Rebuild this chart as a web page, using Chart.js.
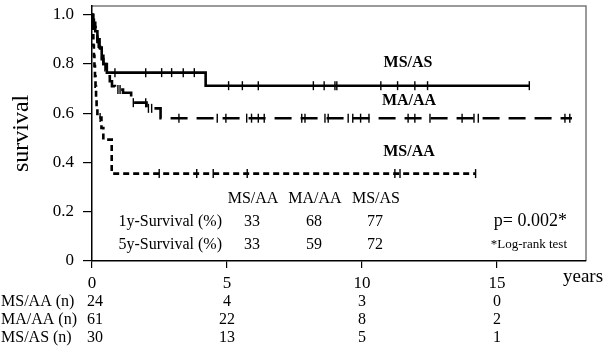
<!DOCTYPE html>
<html>
<head>
<meta charset="utf-8">
<script src="https://cdn.jsdelivr.net/npm/chart.js@4.4.0/dist/chart.umd.min.js"></script>
<style>
html,body{margin:0;padding:0;background:#fff;}
#wrap{width:606px;height:356px;position:relative;}
</style>
</head>
<body>
<div id="wrap"><canvas id="c" width="606" height="356"></canvas></div>
<script>
// ---- Data ----
// MS/AS (solid)
const msasTimes = [0, 0.05, 0.12, 0.2, 0.28, 0.36, 0.42, 0.55, 4.21, 16.2];
const msasSurv  = [1.0, 0.967, 0.933, 0.9, 0.867, 0.833, 0.8, 0.765, 0.712, 0.712];
const msasCensor = [0.85, 1.99, 2.58, 2.95, 3.38, 3.79, 5.06, 5.57, 6.16, 8.2, 8.6, 9.0, 9.07, 10.7, 11.32, 11.96, 12.43, 16.2];

// MA/AA (long dash)
const maaaTimes = [0, 0.02, 0.07, 0.13, 0.2, 0.25, 0.3, 0.36, 0.42, 0.5, 0.58, 0.66, 0.74, 0.85, 1.15, 1.45, 1.52, 2.02, 2.54, 17.78];
const maaaSurv  = [1.0, 0.98, 0.95, 0.92, 0.89, 0.87, 0.85, 0.82, 0.8, 0.775, 0.75, 0.73, 0.71, 0.696, 0.683, 0.66, 0.643, 0.62, 0.58, 0.58];
const maaaCensor = [0.96, 1.04, 1.53, 1.99, 2.09, 2.21, 3.22, 4.64, 4.96, 5.73, 5.91, 6.16, 6.38, 7.77, 7.89, 8.63, 8.75, 9.49, 9.66, 9.95, 10.26, 11.71, 11.96, 12.52, 13.71, 14.15, 14.31, 17.52, 17.7];

// MS/AA (short dash)
const msaaTimes = [0, 0.01, 0.03, 0.05, 0.07, 0.09, 0.11, 0.13, 0.15, 0.17, 0.2, 0.35, 0.42, 0.73, 14.21];
const msaaSurv  = [1.0, 0.958, 0.917, 0.875, 0.833, 0.792, 0.75, 0.708, 0.667, 0.625, 0.583, 0.54, 0.493, 0.355, 0.355];
const msaaCensor = [0.3, 2.49, 3.88, 4.49, 5.75, 11.22, 11.41, 14.21];

// Axis ticks
const xTicks = [0, 5, 10, 15];
const yTicks = [0, 0.2, 0.4, 0.6, 0.8, 1.0];
const yTickLabels = ['0', '0.2', '0.4', '0.6', '0.8', '1.0'];

// Survival table
const survGroups = ['MS/AA', 'MA/AA', 'MS/AS'];
const surv1y = [33, 68, 77];
const surv5y = [33, 59, 72];

// Number at risk
const riskTimes = [0, 5, 10, 15];
const riskLabels = ['MS/AA (n)', 'MA/AA (n)', 'MS/AS (n)'];
const riskMSAA = [24, 4, 3, 0];
const riskMAAA = [61, 22, 8, 2];
const riskMSAS = [30, 13, 5, 1];

// ---- helpers ----
function toPts(ts, ss){ return ts.map((t,i)=>({x:t, y:ss[i]})); }
function survAt(ts, ss, t){ let v = ss[0]; for(let i=0;i<ts.length;i++){ if(ts[i] <= t) v = ss[i]; } return v; }
function censorPts(ct, ts, ss){ return ct.map(t=>({x:t, y:survAt(ts, ss, t)})); }

const SERIF = '"Liberation Serif", "Times New Roman", serif';

const lineBase = { showLine:true, stepped:'before', borderColor:'#000', borderWidth:2.6, pointRadius:0, fill:false, tension:0 };
const censBase = { showLine:false, pointStyle:'line', rotation:90, pointRadius:4.5, pointHoverRadius:4.5, pointBorderWidth:1.4, borderColor:'#000', backgroundColor:'#000' };

const overlay = {
  id:'overlay',
  beforeDraw(chart){
    const {ctx, chartArea:a} = chart;
    ctx.save();
    ctx.strokeStyle = '#7a7a7a';
    ctx.lineWidth = 1.5;
    ctx.beginPath();
    ctx.moveTo(a.left, a.top); ctx.lineTo(a.right, a.top); ctx.lineTo(a.right, a.bottom);
    ctx.stroke();
    ctx.restore();
  },
  afterDraw(chart){
    const {ctx} = chart;
    const xs = chart.scales.x;
    ctx.save();
    ctx.fillStyle = '#000';
    ctx.textBaseline = 'middle';
    // group labels
    ctx.font = 'bold 16px ' + SERIF;
    ctx.textAlign = 'center';
    ctx.fillText('MS/AS', 408, 63);
    ctx.fillText('MA/AA', 409, 101);
    ctx.fillText('MS/AA', 409, 152);
    // survival table
    ctx.font = '16px ' + SERIF;
    const colX = [253, 315, 376];
    survGroups.forEach((g,i)=>ctx.fillText(g, colX[i], 199));
    ctx.textAlign = 'right';
    ctx.fillText('1y-Survival (%)', 222, 222);
    ctx.fillText('5y-Survival (%)', 222, 245);
    ctx.textAlign = 'center';
    surv1y.forEach((v,i)=>ctx.fillText(String(v), colX[i]-1, 222));
    surv5y.forEach((v,i)=>ctx.fillText(String(v), colX[i]-1, 245));
    // p-value
    ctx.textAlign = 'right';
    ctx.font = '18px ' + SERIF;
    ctx.fillText('p= 0.002*', 567, 221);
    ctx.font = '13px ' + SERIF;
    ctx.fillText('*Log-rank test', 567, 245);
    // years
    ctx.textAlign = 'left';
    ctx.font = '19px ' + SERIF;
    ctx.fillText('years', 563, 277);
    // risk table
    ctx.font = '16px ' + SERIF;
    const rows = [riskMSAA, riskMAAA, riskMSAS];
    const rowY = [302, 320, 338];
    rows.forEach((r,ri)=>{
      ctx.textAlign = 'left';
      ctx.fillText(riskLabels[ri], 1, rowY[ri]);
      ctx.textAlign = 'center';
      r.forEach((v,ci)=>{
        const px = xs.getPixelForValue(riskTimes[ci]) + (ci===0 ? 3 : 0);
        ctx.fillText(String(v), px, rowY[ri]);
      });
    });
    ctx.restore();
  }
};

new Chart(document.getElementById('c'), {
  type:'scatter',
  data:{
    datasets:[
      Object.assign({label:'MS/AS', data:toPts(msasTimes, msasSurv)}, lineBase),
      Object.assign({label:'MA/AA', data:toPts(maaaTimes, maaaSurv), borderDash:[17,9]}, lineBase),
      Object.assign({label:'MS/AA', data:toPts(msaaTimes, msaaSurv), borderDash:[6,4]}, lineBase),
      Object.assign({label:'MS/AS c', data:censorPts(msasCensor, msasTimes, msasSurv)}, censBase),
      Object.assign({label:'MA/AA c', data:censorPts(maaaCensor, maaaTimes, maaaSurv)}, censBase),
      Object.assign({label:'MS/AA c', data:censorPts(msaaCensor, msaaTimes, msaaSurv)}, censBase)
    ]
  },
  options:{
    responsive:false,
    animation:false,
    events:[],
    layout:{padding:{left:0, right:20, top:2, bottom:0}},
    plugins:{legend:{display:false}, tooltip:{enabled:false}},
    scales:{
      x:{
        type:'linear', min:0, max:18.3,
        afterBuildTicks(s){ s.ticks = xTicks.map(v=>({value:v})); },
        afterFit(s){ s.height = 95; s.paddingLeft = 0; s.paddingRight = 0; },
        grid:{drawOnChartArea:false, drawTicks:true, tickLength:7, color:'#000', lineWidth:1.2},
        border:{display:true, color:'#000', width:1.5},
        ticks:{color:'#000', font:{family:SERIF, size:17}, padding:5, maxRotation:0,
               callback:(v)=>String(v)}
      },
      y:{
        type:'linear', min:0, max:1.036,
        afterBuildTicks(s){ s.ticks = yTicks.map(v=>({value:v})); },
        afterFit(s){ s.width = 92; s.paddingTop = 0; s.paddingBottom = 0; },
        grid:{drawOnChartArea:false, drawTicks:true, tickLength:9, color:'#000', lineWidth:1.2},
        border:{display:true, color:'#000', width:1.5},
        title:{display:true, text:'survival', color:'#000', font:{family:SERIF, size:24}, padding:{top:7, bottom:0}},
        ticks:{color:'#000', font:{family:SERIF, size:17}, padding:9,
               callback:(v)=>{ const i = yTicks.indexOf(v); return i>=0 ? yTickLabels[i] : ''; }}
      }
    }
  },
  plugins:[overlay]
});
</script>
</body>
</html>
